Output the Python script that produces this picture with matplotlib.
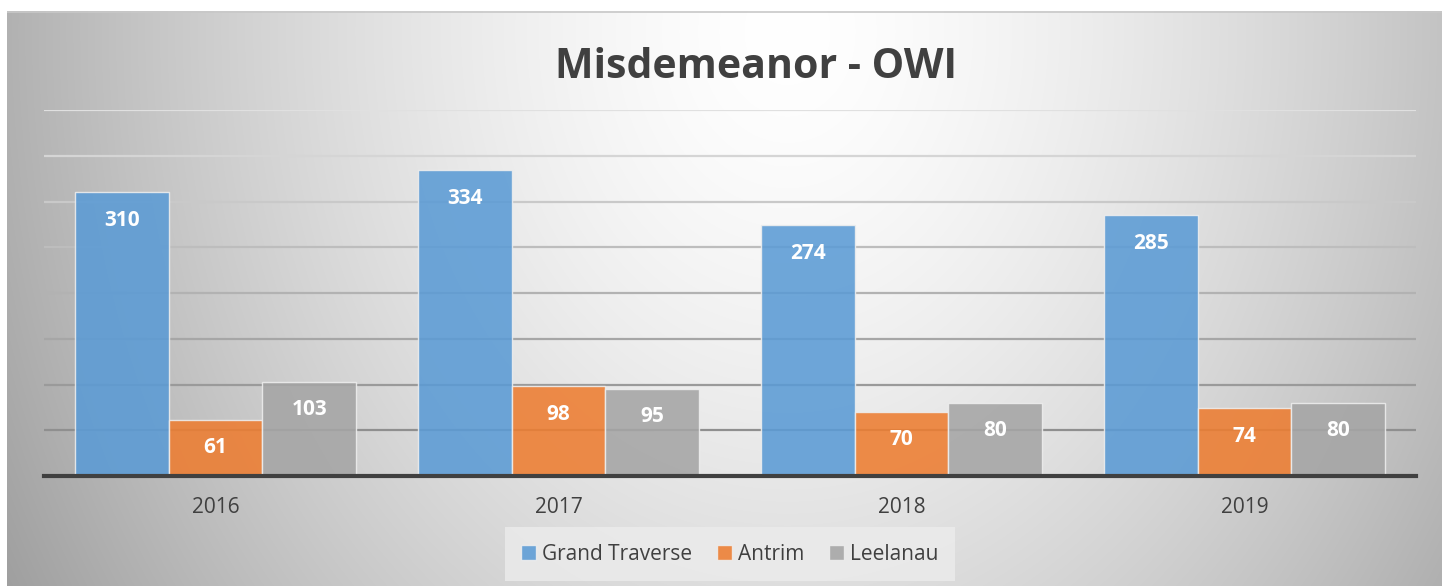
import numpy as np
import matplotlib.pyplot as plt

plt.rcParams['font.family'] = ['Open Sans', 'DejaVu Sans']

years = ['2016', '2017', '2018', '2019']
grand_traverse = [310, 334, 274, 285]
antrim = [61, 98, 70, 74]
leelanau = [103, 95, 80, 80]
series_names = ['Grand Traverse', 'Antrim', 'Leelanau']
series_colors = ['#5b9bd5', '#ed7d31', '#a5a5a5']
y_max = 400
grid_step = 50

fig = plt.figure(figsize=(14.42, 5.86), dpi=100)

# background panel with soft radial gradient
bg = fig.add_axes([7 / 1442, 0, 1435 / 1442, 575 / 586])
h, w = 575, 1435
yy, xx = np.mgrid[0:h, 0:w]
r = np.sqrt(((xx - 780) / 720.0) ** 2 + ((yy - 20) / 900.0) ** 2)
shade = 1 - 0.27 * np.clip(r, 0, 1.3) ** 1.5
bg.imshow(np.dstack([shade] * 3), aspect='auto', extent=(0, w, h, 0))
bg.set_xlim(0, w)
bg.set_ylim(h, 0)
bg.axis('off')
bg.plot([0, w], [0.5, 0.5], color='#c8c8c8', lw=1.2)

ax = fig.add_axes([44 / 1442, 1 - 476 / 586, 1372 / 1442, 366 / 586])
ax.set_facecolor('none')

# gridlines, lighter toward the top
levels = np.arange(grid_step, y_max + 1, grid_step)
for k, lv in enumerate(levels):
    t = k / (len(levels) - 1)
    g = 0.56 + 0.32 * t
    ax.axhline(lv, color=(g, g, g), lw=1.6, zorder=0)

x = np.arange(len(years))
bw = 0.273
data = [grand_traverse, antrim, leelanau]
for i, (vals, name, col) in enumerate(zip(data, series_names, series_colors)):
    pos = x + (i - 1) * bw
    ax.bar(pos, vals, width=bw, color=col, alpha=0.88, edgecolor='#eeeeee',
           linewidth=1.0, label=name, zorder=2)
    for px, v in zip(pos, vals):
        ax.annotate(str(v), (px, v), xytext=(0, -20), textcoords='offset points',
                    ha='center', va='center', color='white', fontsize=15,
                    fontweight='bold', zorder=3)

ax.set_xlim(-0.5, len(years) - 0.5)
ax.set_ylim(0, y_max)
ax.set_xticks(x)
ax.set_xticklabels(years, fontsize=15, color='#404040')
ax.tick_params(axis='x', length=0, pad=15)
ax.set_yticks([])
for s in ['top', 'right', 'left']:
    ax.spines[s].set_visible(False)
ax.spines['bottom'].set_color('#404040')
ax.spines['bottom'].set_linewidth(3)
ax.spines['bottom'].set_zorder(4)

fig.text(756 / 1442, 1 - 68 / 586, 'Misdemeanor - OWI', ha='center', va='center',
         fontsize=29.5, fontweight='bold', color='#404040')

leg = fig.legend(loc='center', bbox_to_anchor=(730 / 1442, 1 - 554 / 586), ncol=3,
                 fontsize=15, frameon=True, handlelength=0.7, handleheight=0.7,
                 handletextpad=0.3, columnspacing=1.2, borderpad=0.5)
leg.get_frame().set_facecolor('#ececec')
leg.get_frame().set_edgecolor('none')
leg.get_frame().set_alpha(0.8)
leg.get_frame().set_boxstyle('square')
for t in leg.get_texts():
    t.set_color('#404040')

fig.savefig('out.png', dpi=100)
